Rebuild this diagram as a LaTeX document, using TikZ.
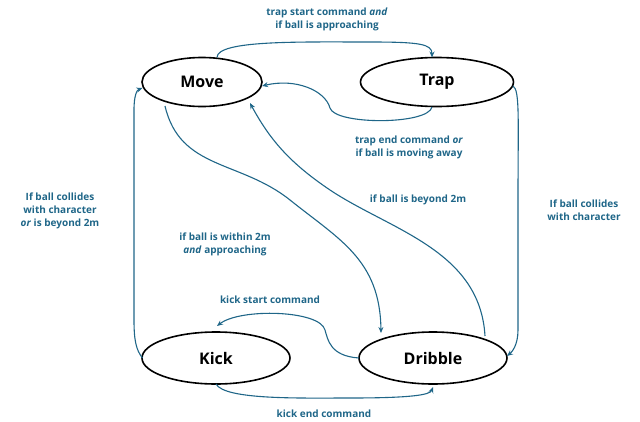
\documentclass[tikz,border=0pt]{standalone}
\usepackage{fontspec}
\setmainfont{Open Sans}
\usetikzlibrary{arrows.meta,shapes.geometric}
\definecolor{lc}{HTML}{1F6688}
\begin{document}
\begin{tikzpicture}[x=1pt,y=-1pt,
  st/.style={ellipse,draw,line width=1.6pt,minimum width=120pt,minimum height=49pt,font=\bfseries\fontsize{16}{19}\selectfont},
  st2/.style={st,minimum width=148pt,minimum height=52pt},
  ar/.style={draw=lc,line width=1.1pt,-{Stealth[length=6pt,width=5pt]}},
  lb/.style={text=lc,font=\bfseries\fontsize{10}{13}\selectfont,align=center}]
\useasboundingbox (0,0) rectangle (640,421);
\node[st] (move) at (202,82) {Move};
\node[st,minimum width=153pt] (trap) at (437,82) {Trap};
\node[st2] (kick) at (216,358) {Kick};
\node[st2] (drib) at (433,358) {Dribble};
\coordinate (a1) at (217,57.5);
\coordinate (a2) at (432,57.5);
\draw[ar] (a1) .. controls (217,40) and (300,42) .. (370,42) .. controls (420,42) and (432,44) .. (a2);
\coordinate (b1) at (432,107);
\coordinate (b2) at (262,86);
\draw[ar] (b1) .. controls (428,125) and (335,125) .. (330,108) .. controls (325,90) and (295,78) .. (b2);
\coordinate (c1) at (165,106);
\coordinate (c2) at (381,333);
\draw[ar] (c1) .. controls (180,170) and (240,160) .. (290,200) .. controls (340,240) and (380,260) .. (c2);
\coordinate (d1) at (485,336);
\coordinate (d2) at (250,103);
\draw[ar] (d1) .. controls (480,250) and (390,230) .. (330,190) .. controls (290,163) and (270,140) .. (d2);
\coordinate (e1) at (513,86);
\coordinate (e2) at (507,356);
\draw[ar] (e1) .. controls (520,90) and (518,120) .. (518,200) -- (518,330) .. controls (518,345) and (512,352) .. (e2);
\coordinate (f1) at (142.5,358);
\coordinate (f2) at (142.5,88);
\draw[ar] (f1) .. controls (136,350) and (134,340) .. (134,320) -- (134,110) .. controls (134,95) and (137,90) .. (f2);
\coordinate (g1) at (359,358);
\coordinate (g2) at (217,326);
\draw[ar] (g1) .. controls (330,356) and (328,340) .. (325,330) .. controls (320,310) and (240,308) .. (g2);
\coordinate (h1) at (216,384);
\coordinate (h2) at (433,387);
\draw[ar] (h1) .. controls (225,400) and (300,398) .. (350,398) .. controls (410,398) and (430,395) .. (h2);
\node[lb] (l1) at (327,19) {trap start command \textit{and}\\if ball is approaching};
\node[lb] (l2) at (409,147) {trap end command \textit{or}\\if ball is moving away};
\node[lb] (l3) at (60,211) {If ball collides\\with character\\\textit{or} is beyond 2m};
\node[lb] (l4) at (584,210) {If ball collides\\with character};
\node[lb] (l5) at (418,200) {if ball is beyond 2m};
\node[lb] (l6) at (225,244) {if ball is within 2m\\\textit{and} approaching};
\node[lb] (l7) at (270,300) {kick start command};
\node[lb] (l8) at (324,414) {kick end command};
\end{tikzpicture}
\end{document}
